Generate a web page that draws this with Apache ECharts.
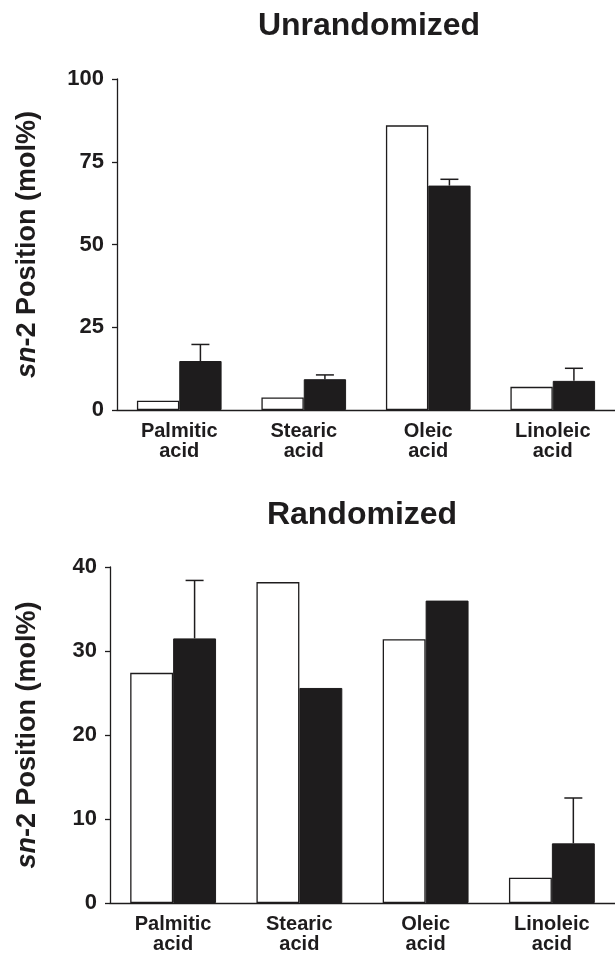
<!DOCTYPE html>
<html><head><meta charset="utf-8">
<script src="https://cdn.jsdelivr.net/npm/echarts@6/dist/echarts.min.js"></script>
<style>html,body{margin:0;padding:0;background:#fff}#c{width:615px;height:954px}</style>
</head><body><div id="c"></div>
<script>
// ---- data ----
const categories = ['Palmitic\nacid', 'Stearic\nacid', 'Oleic\nacid', 'Linoleic\nacid'];
const unrandWhite = [2.8, 3.8, 86.0, 7.0];
const unrandBlack = [14.8, 9.3, 67.8, 8.8];
const unrandBlackErr = [5.0, 1.3, 1.9, 3.8];
const randWhite = [27.4, 38.2, 31.4, 3.0];
const randBlack = [31.5, 25.6, 36.0, 7.1];
const randBlackErr = [6.9, 0, 0, 5.4];
const unrandTicks = [0, 25, 50, 75, 100];
const randTicks = [0, 10, 20, 30, 40];
const titles = ['Unrandomized', 'Randomized'];
const yName = '{i|sn}-2 Position (mol%)';

// ---- styling ----
const INK = '#1e1c1d';
const FONT = 'Liberation Sans, Arial, Helvetica, sans-serif';
const GAP = 0.32;

function errRender(params, api) {
  const i = api.value(0), v = api.value(1), e = api.value(2);
  if (!e) return;
  const band = api.size([1, 0])[0];
  const off = band * (1 - GAP) / 4;
  const p0 = api.coord([i, v]);
  const p1 = api.coord([i, v + e]);
  const x = p0[0] + off;
  const cap = 9;
  return {
    type: 'group',
    children: [
      { type: 'line', shape: { x1: x, y1: p0[1], x2: x, y2: p1[1] }, style: { stroke: INK, lineWidth: 1.5 } },
      { type: 'line', shape: { x1: x - cap, y1: p1[1], x2: x + cap, y2: p1[1] }, style: { stroke: INK, lineWidth: 1.5 } }
    ]
  };
}

function yAxis(gridIndex, ticks, gap, margin) {
  return {
    type: 'value', gridIndex,
    min: ticks[0], max: ticks[ticks.length - 1], interval: ticks[1] - ticks[0],
    splitLine: { show: false },
    axisLine: { show: true, lineStyle: { color: INK, width: 1.3 } },
    axisTick: { show: true, length: 5, lineStyle: { color: INK, width: 1.3 } },
    axisLabel: { color: INK, fontSize: 22, fontWeight: 'bold', fontFamily: FONT, margin },
    name: yName, nameLocation: 'middle', nameRotate: 90, nameGap: gap,
    nameTextStyle: {
      color: INK, fontSize: 27, fontWeight: 'bold', fontFamily: FONT,
      rich: { i: { fontStyle: 'italic', fontWeight: 'bold', fontSize: 27, fontFamily: FONT, color: INK } }
    }
  };
}
function xAxis(gridIndex) {
  return {
    type: 'category', gridIndex, data: categories,
    axisLine: { show: true, lineStyle: { color: INK, width: 1.3 } },
    axisTick: { show: false },
    axisLabel: { color: INK, fontSize: 20, lineHeight: 20, fontWeight: 'bold', fontFamily: FONT, margin: 11, interval: 0 }
  };
}
function bars(idx, data, dark) {
  return {
    type: 'bar', xAxisIndex: idx, yAxisIndex: idx, data,
    barGap: '0%', barCategoryGap: (GAP * 100) + '%',
    itemStyle: dark ? { color: INK, borderColor: INK, borderWidth: 1 } : { color: '#ffffff', borderColor: INK, borderWidth: 1.3 },
    silent: true
  };
}
function errs(idx, vals, errsArr) {
  return {
    type: 'custom', xAxisIndex: idx, yAxisIndex: idx, z: 5,
    data: vals.map((v, i) => [i, v, errsArr[i]]),
    encode: { x: 0, y: 1 },
    renderItem: errRender, silent: true
  };
}

const chart = echarts.init(document.getElementById('c'), null, { renderer: 'canvas' });
chart.setOption({
  backgroundColor: '#ffffff',
  animation: false,
  title: [
    { text: titles[0], left: 369, top: 10, padding: 0, textAlign: 'center',
      textStyle: { color: INK, fontSize: 32, fontWeight: 'bold', fontFamily: FONT } },
    { text: titles[1], left: 362, top: 499, padding: 0, textAlign: 'center',
      textStyle: { color: INK, fontSize: 32, fontWeight: 'bold', fontFamily: FONT } }
  ],
  grid: [
    { left: 117, width: 500, top: 79, height: 331 },
    { left: 110, width: 505, top: 567, height: 336 }
  ],
  xAxis: [xAxis(0), xAxis(1)],
  yAxis: [yAxis(0, unrandTicks, 76, 13), yAxis(1, randTicks, 69, 13)],
  series: [
    bars(0, unrandWhite, false), bars(0, unrandBlack, true), errs(0, unrandBlack, unrandBlackErr),
    bars(1, randWhite, false), bars(1, randBlack, true), errs(1, randBlack, randBlackErr)
  ]
});
</script></body></html>
